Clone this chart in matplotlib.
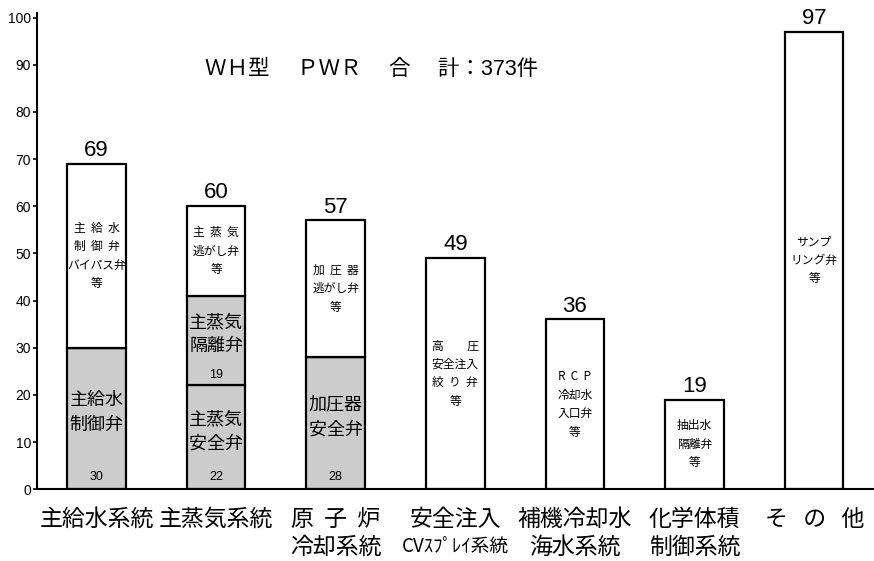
import matplotlib
matplotlib.use("Agg")
import matplotlib.pyplot as plt
import numpy as np

plt.rcParams['font.family'] = ['Liberation Sans', 'Noto Sans CJK JP', 'DejaVu Sans']

# ---- data ----
categories_line1 = ["主給水系統", "主蒸気系統", "原  子  炉", "安全注入", "補機冷却水", "化学体積", "そ   の   他"]
categories_line2 = ["", "", "冷却系統", "CVｽﾌﾟﾚｲ系統", "海水系統", "制御系統", ""]
totals = [69, 60, 57, 49, 36, 19, 97]
gray_low = [30, 22, 28, 0, 0, 0, 0]
gray_mid = [0, 19, 0, 0, 0, 0, 0]
gray_low_labels = ["主給水\n制御弁", "主蒸気\n安全弁", "加圧器\n安全弁", "", "", "", ""]
gray_mid_labels = ["", "主蒸気\n隔離弁", "", "", "", "", ""]
white_labels = [
    "主  給  水\n制  御  弁\nバイパス弁\n等",
    "主  蒸  気\n逃がし弁\n等",
    "加  圧  器\n逃がし弁\n等",
    "高　　圧\n安全注入\n絞  り  弁\n等",
    "R  C  P\n冷却水\n入口弁\n等",
    "抽出水\n隔離弁\n等",
    "サンプ\nリング弁\n等",
]
title_text = "ＷＨ型　 ＰＷＲ　 合　 計：373件"
yticks = [0, 10, 20, 30, 40, 50, 60, 70, 80, 90, 100]

# ---- plot ----
fig = plt.figure(figsize=(8.74, 5.61), dpi=100)
ax = fig.add_axes([0.042, 0.128, 0.958, 0.849])

x = np.arange(len(totals))
totals_a = np.array(totals)
low = np.array(gray_low)
mid = np.array(gray_mid)
white = totals_a - low - mid
w = 0.49
gray = "#cccccc"
lw = 1.6

ax.bar(x, low, w, color=gray, edgecolor="black", linewidth=lw, zorder=2)
ax.bar(x, mid, w, bottom=low, color=gray, edgecolor="black", linewidth=lw, zorder=2)
ax.bar(x, white, w, bottom=low + mid, color="white", edgecolor="black", linewidth=lw, zorder=2)

jp = ['Noto Sans CJK JP', 'DejaVu Sans']
for i in x:
    # totals on top
    ax.annotate(str(totals[i]), (i, totals[i]), xytext=(0, 2), textcoords="offset points",
                ha="center", va="bottom", fontsize=16)
    # gray low segment
    if low[i] > 0:
        ax.text(i, low[i] / 2 + 1.3, gray_low_labels[i], ha="center", va="center",
                fontsize=13, family=jp, linespacing=1.45)
        ax.text(i, 2.6, str(low[i]), ha="center", va="center", fontsize=9)
    if mid[i] > 0:
        ax.text(i, low[i] + mid[i] / 2 + 1.4, gray_mid_labels[i], ha="center", va="center",
                fontsize=13, family=jp, linespacing=1.45)
        ax.text(i, low[i] + 2.3, str(mid[i]), ha="center", va="center", fontsize=9)
    base = low[i] + mid[i]
    ax.text(i, base + white[i] / 2, white_labels[i], ha="center", va="center",
            fontsize=8.5, family=jp, linespacing=1.55)

ax.text(2.3, 89, title_text, ha="center", va="center", fontsize=15.5)

ax.set_xlim(-0.5, 6.5)
ax.set_ylim(0, 101)
ax.set_yticks(yticks)
ax.tick_params(axis="y", labelsize=10, length=3, width=1.2, direction="out", pad=1)
ax.set_xticks([])
for s in ["top", "right"]:
    ax.spines[s].set_visible(False)
ax.spines["left"].set_linewidth(1.5)
ax.spines["bottom"].set_linewidth(1.5)

for i in x:
    ax.annotate(categories_line1[i], (i, 0), xycoords="data", xytext=(0, -21.5),
                textcoords="offset points", ha="center", va="center",
                fontsize=16.5, family=jp, annotation_clip=False)
    if categories_line2[i]:
        fs = 13.5 if "CV" in categories_line2[i] else 16.5
        ax.annotate(categories_line2[i], (i, 0), xycoords="data", xytext=(0, -42),
                    textcoords="offset points", ha="center", va="center",
                    fontsize=fs, family=jp, annotation_clip=False)

fig.savefig("out.png", dpi=100)
